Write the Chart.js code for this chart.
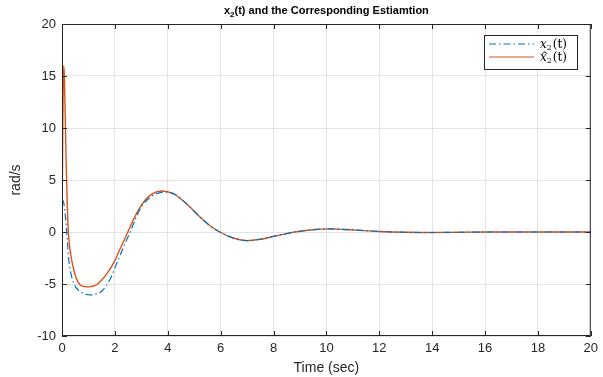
<!DOCTYPE html>
<html>
<head>
<meta charset="utf-8">
<script src="https://cdn.jsdelivr.net/npm/chart.js@4.4.1/dist/chart.umd.min.js"></script>
<style>
  html, body { margin: 0; padding: 0; background: #fff; }
  #wrap { width: 603px; height: 377px; }
</style>
</head>
<body>
<div id="wrap"><canvas id="myChart" width="603" height="377"></canvas></div>
<script>
// values
var timeTrue = [0, 0.03, 0.08, 0.13, 0.18, 0.25, 0.33, 0.44, 0.6, 0.8, 1.07, 1.3, 1.5, 1.82, 2.01, 2.14, 2.35, 2.58, 2.95, 3.27, 3.6, 3.9, 4.21, 4.46, 4.8, 5.22, 5.6, 5.97, 6.5, 6.98, 7.5, 8.0, 8.5, 8.8, 9.5, 10.1, 11, 12, 13, 14, 15, 16, 18, 20];
var x2True = [3.0, 3.05, 2.6, 1.5, 0, -2.5, -3.9, -4.9, -5.55, -5.9, -6.05, -5.95, -5.7, -4.55, -3.4, -2.6, -1.3, 0, 2.2, 3.2, 3.7, 3.85, 3.69, 3.3, 2.5, 1.44, 0.6, 0, -0.6, -0.83, -0.7, -0.42, -0.15, 0, 0.22, 0.3, 0.2, 0.05, -0.03, -0.05, -0.03, 0, 0, 0];
var timeEst = [0, 0.03, 0.06, 0.09, 0.15, 0.2, 0.24, 0.3, 0.38, 0.5, 0.69, 0.94, 1.1, 1.32, 1.7, 2.01, 2.14, 2.3, 2.49, 2.64, 2.89, 3.14, 3.4, 3.77, 4.21, 4.46, 4.8, 5.22, 5.6, 5.97, 6.5, 6.98, 7.5, 8.0, 8.5, 8.8, 9.5, 10.1, 11, 12, 13, 14, 15, 16, 18, 20];
var x2Est = [0, 10, 16, 15, 7.5, 2.5, 0, -1.6, -2.9, -4.16, -5.1, -5.28, -5.25, -5.05, -4.0, -2.7, -1.95, -1.05, 0, 0.85, 2.1, 3.05, 3.65, 3.94, 3.69, 3.25, 2.5, 1.44, 0.6, 0, -0.6, -0.83, -0.7, -0.42, -0.15, 0, 0.22, 0.3, 0.2, 0.05, -0.03, -0.05, -0.03, 0, 0, 0];
var xTicks = [0, 2, 4, 6, 8, 10, 12, 14, 16, 18, 20];
var yTicks = [-10, -5, 0, 5, 10, 15, 20];

var blue = '#0072BD';
var orange = '#D95319';
var axisCol = '#262626';

function pts(ts, ys) {
    var out = [];
    for (let i = 0; i < ts.length; i++) out.push({x: ts[i], y: ys[i]});
    return out;
}

// box, inward ticks, title and legend like MATLAB
const matlabLook = {
    id: 'matlabLook',
    afterDatasetsDraw(chart) {
        var ctx = chart.ctx;
        var a = chart.chartArea;
        var xs = chart.scales.x, ys = chart.scales.y;
        ctx.save();
        ctx.strokeStyle = axisCol;
        ctx.lineWidth = 1;
        ctx.strokeRect(a.left + 0.5, a.top + 0.5, a.right - a.left - 1, a.bottom - a.top - 1);
        ctx.beginPath();
        for (const v of xTicks) {
            var px = Math.round(xs.getPixelForValue(v)) + 0.5;
            ctx.moveTo(px, a.bottom); ctx.lineTo(px, a.bottom - 5);
            ctx.moveTo(px, a.top); ctx.lineTo(px, a.top + 5);
        }
        for (const v of yTicks) {
            var py = Math.round(ys.getPixelForValue(v)) + 0.5;
            ctx.moveTo(a.left, py); ctx.lineTo(a.left + 5, py);
            ctx.moveTo(a.right, py); ctx.lineTo(a.right - 5, py);
        }
        ctx.stroke();

        // title
        var cx = (a.left + a.right) / 2;
        ctx.fillStyle = '#000';
        ctx.textBaseline = 'alphabetic';
        ctx.font = 'bold 11px "Liberation Sans", Arial, sans-serif';
        var t1 = 'x', t2 = '2', t3 = '(t) and the Corresponding Estiamtion';
        var w1 = ctx.measureText(t1).width, w3 = ctx.measureText(t3).width;
        ctx.font = 'bold 8px "Liberation Sans", Arial, sans-serif';
        var w2 = ctx.measureText(t2).width;
        var sx = cx - (w1 + w2 + w3) / 2;
        ctx.font = 'bold 11px "Liberation Sans", Arial, sans-serif';
        ctx.fillText(t1, sx, 14);
        ctx.font = 'bold 8px "Liberation Sans", Arial, sans-serif';
        ctx.fillText(t2, sx + w1, 17);
        ctx.font = 'bold 11px "Liberation Sans", Arial, sans-serif';
        ctx.fillText(t3, sx + w1 + w2, 14);

        // legend
        var lx = 484, ly = 35, lw = 93, lh = 34;
        ctx.fillStyle = '#fff';
        ctx.fillRect(lx, ly, lw, lh);
        ctx.strokeStyle = axisCol;
        ctx.strokeRect(lx + 0.5, ly + 0.5, lw, lh);
        var rows = [[blue, [7, 3, 1.5, 3], 44, false], [orange, [], 57, true]];
        for (const r of rows) {
            ctx.strokeStyle = r[0];
            ctx.lineWidth = 1.2;
            ctx.setLineDash(r[1]);
            ctx.beginPath();
            ctx.moveTo(lx + 5, r[2]); ctx.lineTo(lx + 50, r[2]);
            ctx.stroke();
            ctx.setLineDash([]);
            ctx.fillStyle = '#000';
            var tx = lx + 56;
            ctx.font = 'italic 12px "DejaVu Serif", "Liberation Serif", serif';
            ctx.fillText('x', tx, r[2] + 4);
            var wx = ctx.measureText('x').width;
            if (r[3]) {
                ctx.font = '9px "DejaVu Serif", "Liberation Serif", serif';
                ctx.fillText('^', tx + 1, r[2] + 1);
            }
            ctx.font = '8px "DejaVu Serif", "Liberation Serif", serif';
            ctx.fillText('2', tx + wx, r[2] + 6);
            var w2b = ctx.measureText('2').width;
            ctx.font = '12px "DejaVu Serif", "Liberation Serif", serif';
            ctx.fillText('(t)', tx + wx + w2b + 1, r[2] + 4);
        }
        ctx.restore();
    }
};

const data = {
    datasets: [{
        label: 'x2(t)',
        data: pts(timeTrue, x2True),
        borderColor: blue,
        borderWidth: 1.2,
        borderDash: [7, 3, 1.5, 3],
        pointRadius: 0,
        cubicInterpolationMode: 'monotone',
        fill: false
    }, {
        label: 'x2hat(t)',
        data: pts(timeEst, x2Est),
        borderColor: orange,
        borderWidth: 1.4,
        pointRadius: 0,
        cubicInterpolationMode: 'monotone',
        fill: false
    }]
};

const config = {
    type: 'line',
    data: data,
    plugins: [matlabLook],
    options: {
        responsive: false,
        animation: false,
        layout: { padding: { top: 24, right: 12, left: 0, bottom: 0 } },
        plugins: { legend: { display: false }, title: { display: false }, tooltip: { enabled: false } },
        scales: {
            x: {
                type: 'linear',
                min: 0, max: 20,
                afterBuildTicks: function(s) { s.ticks = xTicks.map(v => ({value: v})); },
                afterFit: function(s) { s.height = 41; },
                grid: { color: '#e3e3e3', drawTicks: false },
                border: { display: false },
                ticks: { color: '#262626', padding: 5, maxRotation: 0, font: { size: 13, family: '"Liberation Sans", Arial, sans-serif' } },
                title: { display: true, text: 'Time (sec)', color: '#262626', padding: { top: 2, bottom: 0 }, font: { size: 14, family: '"Liberation Sans", Arial, sans-serif' } }
            },
            y: {
                min: -10, max: 20,
                afterBuildTicks: function(s) { s.ticks = yTicks.map(v => ({value: v})); },
                afterFit: function(s) { s.width = 62; },
                grid: { color: '#e3e3e3', drawTicks: false },
                border: { display: false },
                ticks: { color: '#262626', padding: 6, font: { size: 13, family: '"Liberation Sans", Arial, sans-serif' } },
                title: { display: true, text: 'rad/s', color: '#262626', padding: { top: 8, bottom: 0 }, font: { size: 14, family: '"Liberation Sans", Arial, sans-serif' } }
            }
        }
    }
};

const myChart = new Chart(document.getElementById('myChart'), config);
</script>
</body>
</html>
